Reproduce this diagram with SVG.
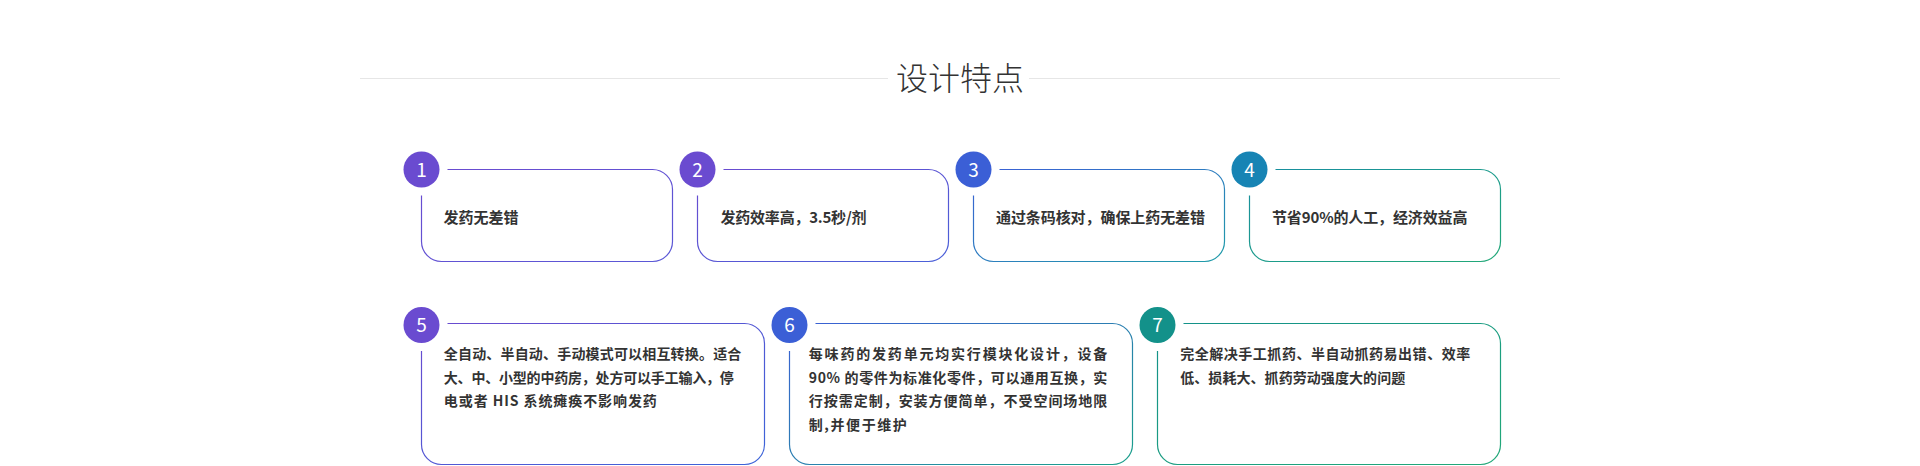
<svg xmlns="http://www.w3.org/2000/svg" width="1920" height="466" viewBox="0 0 1920 466">
  <style>
    .title { font-family: "Noto Sans CJK SC", "Noto Sans", sans-serif; font-size: 32px; font-weight: 300; fill: #333333; }
    .sep { stroke: #e6e6e6; stroke-width: 1; fill: none; }
    .card { fill: none; stroke-width: 1.2; }
    .num { font-family: "Noto Sans CJK SC", "Noto Sans", sans-serif; font-size: 19px; fill: #ffffff; text-anchor: middle; }
    .t1 { font-family: "Noto Sans CJK SC", "Noto Sans", sans-serif; font-size: 15px; font-weight: 700; fill: #333333; }
    .t2 { font-family: "Noto Sans CJK SC", "Noto Sans", sans-serif; font-size: 14px; font-weight: 700; fill: #333333; }
  </style>
  <defs>
    <linearGradient id="g1" x1="0" y1="0" x2="1" y2="1"><stop offset="0" stop-color="#6a4bd0"/><stop offset="1" stop-color="#5a58d6"/></linearGradient>
    <linearGradient id="g2" x1="0" y1="0" x2="1" y2="1"><stop offset="0" stop-color="#6a4bd0"/><stop offset="1" stop-color="#4a60d8"/></linearGradient>
    <linearGradient id="g3" x1="0" y1="0" x2="1" y2="1"><stop offset="0" stop-color="#3b5fd6"/><stop offset="1" stop-color="#1f9ca8"/></linearGradient>
    <linearGradient id="g4" x1="0" y1="0" x2="1" y2="1"><stop offset="0" stop-color="#178ea0"/><stop offset="1" stop-color="#22a878"/></linearGradient>
    <linearGradient id="g5" x1="0" y1="0" x2="1" y2="1"><stop offset="0" stop-color="#6a4bd0"/><stop offset="1" stop-color="#3b64d8"/></linearGradient>
    <linearGradient id="g6" x1="0" y1="0" x2="1" y2="1"><stop offset="0" stop-color="#3b5fd6"/><stop offset="1" stop-color="#1aa08a"/></linearGradient>
    <linearGradient id="g7" x1="0" y1="0" x2="1" y2="1"><stop offset="0" stop-color="#13918a"/><stop offset="1" stop-color="#22a878"/></linearGradient>
  </defs>

  <g id="header">
    <line class="sep" x1="360" y1="78.5" x2="888" y2="78.5"/>
    <line class="sep" x1="1029" y1="78.5" x2="1560" y2="78.5"/>
    <text class="title" x="960" y="90" text-anchor="middle">设计特点</text>
  </g>

  <g id="node1">
    <path class="card" stroke="url(#g1)" d="M447.5,169.5 H652.5 A20,20 0 0 1 672.5,189.5 V241.5 A20,20 0 0 1 652.5,261.5 H441.5 A20,20 0 0 1 421.5,241.5 V195.5"/>
    <circle cx="421.5" cy="169.5" r="18" fill="#6a4bd0"/>
    <text class="num" x="421.5" y="176.5">1</text>
    <text class="t1" x="443.5" y="222.5" textLength="75">发药无差错</text>
  </g>

  <g id="node2">
    <path class="card" stroke="url(#g2)" d="M723.5,169.5 H928.5 A20,20 0 0 1 948.5,189.5 V241.5 A20,20 0 0 1 928.5,261.5 H717.5 A20,20 0 0 1 697.5,241.5 V195.5"/>
    <circle cx="697.5" cy="169.5" r="18" fill="#6a4bd0"/>
    <text class="num" x="697.5" y="176.5">2</text>
    <text class="t1" x="720.5" y="222.5" textLength="146">发药效率高，3.5秒/剂</text>
  </g>

  <g id="node3">
    <path class="card" stroke="url(#g3)" d="M999.5,169.5 H1204.5 A20,20 0 0 1 1224.5,189.5 V241.5 A20,20 0 0 1 1204.5,261.5 H993.5 A20,20 0 0 1 973.5,241.5 V195.5"/>
    <circle cx="973.5" cy="169.5" r="18" fill="#3b5fd6"/>
    <text class="num" x="973.5" y="176.5">3</text>
    <text class="t1" x="996" y="222.5" textLength="209">通过条码核对，确保上药无差错</text>
  </g>

  <g id="node4">
    <path class="card" stroke="url(#g4)" d="M1275.5,169.5 H1480.5 A20,20 0 0 1 1500.5,189.5 V241.5 A20,20 0 0 1 1480.5,261.5 H1269.5 A20,20 0 0 1 1249.5,241.5 V195.5"/>
    <circle cx="1249.5" cy="169.5" r="18" fill="#1784b4"/>
    <text class="num" x="1249.5" y="176.5">4</text>
    <text class="t1" x="1272" y="222.5" textLength="195.5">节省90%的人工，经济效益高</text>
  </g>

  <g id="node5">
    <path class="card" stroke="url(#g5)" d="M447.5,323.5 H744.5 A20,20 0 0 1 764.5,343.5 V444.5 A20,20 0 0 1 744.5,464.5 H441.5 A20,20 0 0 1 421.5,444.5 V351"/>
    <circle cx="421.5" cy="325" r="18" fill="#6a4bd0"/>
    <text class="num" x="421.5" y="332">5</text>
    <text class="t2" x="443.8" y="359" textLength="297.5">全自动、半自动、手动模式可以相互转换。适合</text>
    <text class="t2" x="443.8" y="382.7" textLength="290">大、中、小型的中药房，处方可以手工输入，停</text>
    <text class="t2" x="443.8" y="406.4" textLength="213">电或者 HIS 系统瘫痪不影响发药</text>
  </g>

  <g id="node6">
    <path class="card" stroke="url(#g6)" d="M815.5,323.5 H1112.5 A20,20 0 0 1 1132.5,343.5 V444.5 A20,20 0 0 1 1112.5,464.5 H809.5 A20,20 0 0 1 789.5,444.5 V351"/>
    <circle cx="789.5" cy="325" r="18" fill="#3b5fd6"/>
    <text class="num" x="789.5" y="332">6</text>
    <text class="t2" x="808.8" y="359" textLength="298.5">每味药的发药单元均实行模块化设计，设备</text>
    <text class="t2" x="808.8" y="382.7" textLength="298.5">90% 的零件为标准化零件，可以通用互换，实</text>
    <text class="t2" x="808.8" y="406.4" textLength="298.5">行按需定制，安装方便简单，不受空间场地限</text>
    <text class="t2" x="808.8" y="430.1" textLength="98">制,并便于维护</text>
  </g>

  <g id="node7">
    <path class="card" stroke="url(#g7)" d="M1183.5,323.5 H1480.5 A20,20 0 0 1 1500.5,343.5 V444.5 A20,20 0 0 1 1480.5,464.5 H1177.5 A20,20 0 0 1 1157.5,444.5 V351"/>
    <circle cx="1157.5" cy="325" r="18" fill="#13918a"/>
    <text class="num" x="1157.5" y="332">7</text>
    <text class="t2" x="1180.2" y="359" textLength="290">完全解决手工抓药、半自动抓药易出错、效率</text>
    <text class="t2" x="1180.2" y="382.7" textLength="225">低、损耗大、抓药劳动强度大的问题</text>
  </g>

  <g id="connectors"/>
</svg>
